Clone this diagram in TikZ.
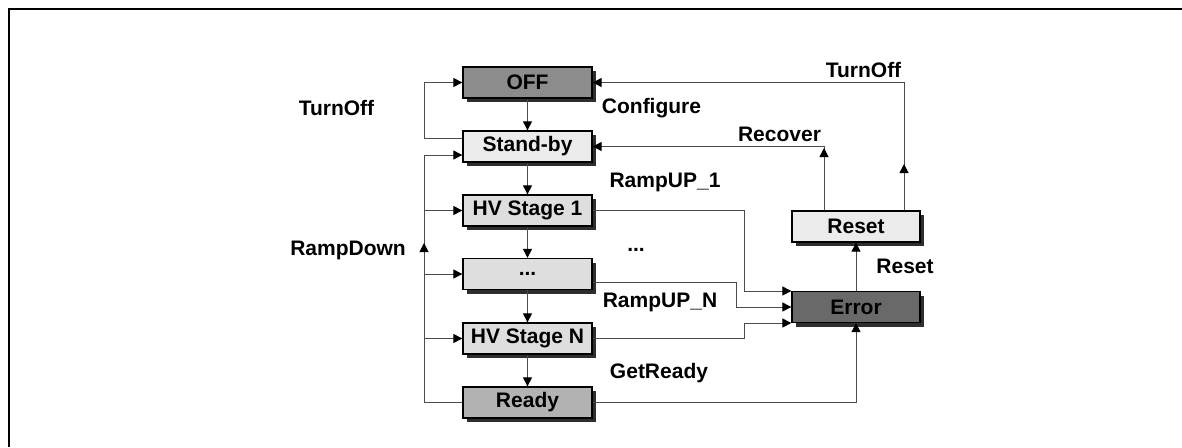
\documentclass[tikz,border=0pt]{standalone}
\usepackage{fontspec}
\setmainfont{Liberation Sans}
\usetikzlibrary{arrows.meta,shadows,calc}
\begin{document}
\begin{tikzpicture}[x=1pt,y=-1pt,
  every node/.style={font=\fontsize{21}{25}\selectfont\bfseries},
  state/.style={draw=black,line width=1.3pt,minimum width=129pt,minimum height=31pt,inner sep=0pt,
     drop shadow={shadow xshift=4pt,shadow yshift=-4pt,fill=black!82,opacity=1}},
  conn/.style={draw=black!70,line width=1pt},
  arr/.style={conn,-{Triangle[length=9pt,width=9pt,color=black]}},
  lbl/.style={inner sep=0pt,anchor=center}]
\useasboundingbox (0,0) rectangle (1182,447);
% frame
\draw[line width=2pt] (9,447) -- (9,9) -- (1182,9);
% states
\node[state,fill=black!45] (off) at (527.5,82.5) {OFF};
\node[state,fill=black!8] (stand) at (527.5,146.5) {Stand-by};
\node[state,fill=black!13] (hv1) at (527.5,210.5) {HV Stage 1};
\node[state,fill=black!13] (dots) at (527.5,274) {...};
\node[state,fill=black!13] (hvn) at (527.5,338.5) {HV Stage N};
\node[state,fill=black!30] (ready) at (527.5,402.5) {Ready};
\node[state,fill=black!8,minimum width=128pt] (reset) at (856,226.5) {Reset};
\node[state,fill=black!59,minimum width=128pt] (err) at (856,307) {Error};
% helper coordinates
\coordinate (lx) at (424,0);
\coordinate (rdtop) at (424,155);
\coordinate (rdA) at (424,253);
\coordinate (rdB) at (424,243);
\coordinate (cx1) at (744,0);
\coordinate (cx2) at (736,0);
\coordinate (recA) at (824,158);
\coordinate (recB) at (824,148);
\coordinate (toA) at (904,173);
\coordinate (toB) at (904,164);
\coordinate (errT) at ([yshift=16pt]err.west);
\coordinate (errB) at ([yshift=-16pt]err.west);
% vertical chain
\draw[arr] (off) -- (stand);
\draw[arr] (stand) -- (hv1);
\draw[arr] (hv1) -- (dots);
\draw[arr] (dots) -- (hvn);
\draw[arr] (hvn) -- (ready);
% TurnOff left loop
\draw[arr] ([yshift=8.5pt]stand.west) -| (lx |- off.west) -- (off.west);
% RampDown loop
\draw[arr] (ready.west) -| (rdtop) -- ([yshift=-8.5pt]stand.west);
\draw[arr] (hv1.west -| lx) -- (hv1.west);
\draw[arr] (dots.west -| lx) -- (dots.west);
\draw[arr] (hvn.west -| lx) -- (hvn.west);
\draw[arr] (rdA) -- (rdB);
% to Error
\draw[arr] (hv1.east) -| (cx1 |- errT) -- (errT);
\draw[arr] ([yshift=-8pt]dots.east) -| (cx2 |- err.west) -- (err.west);
\draw[arr] (hvn.east) -| (cx1 |- errB) -- (errB);
\draw[arr] (ready.east) -| (err.south);
% Error -> Reset
\draw[arr] (err) -- (reset);
% Recover and TurnOff from Reset
\draw[arr] ([xshift=-32pt]reset.north) |- (stand.east);
\draw[arr] (recA) -- (recB);
\draw[arr] ([xshift=48pt]reset.north) |- (off.east);
\draw[arr] (toA) -- (toB);
% labels
\node[lbl] (lTurnOffL) at (336.5,108) {TurnOff};
\node[lbl] (lConf) at (651.5,108) {Configure};
\node[lbl] (lRecover) at (779.5,134) {Recover};
\node[lbl] (lTurnOffR) at (863.5,70) {TurnOff};
\node[lbl] (lRU1) at (665,182) {RampUP\_1};
\node[lbl] (lDots) at (636,250) {...};
\node[lbl] (lRUN) at (660,302) {RampUP\_N};
\node[lbl] (lGet) at (659,373) {GetReady};
\node[lbl] (lRD) at (348,250) {RampDown};
\node[lbl] (lReset) at (905,266) {Reset};
\end{tikzpicture}
\end{document}
